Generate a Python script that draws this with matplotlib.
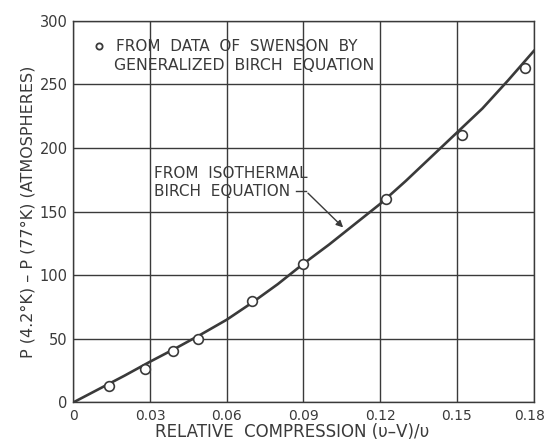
#!/usr/bin/env python3
import matplotlib
matplotlib.use('Agg')
import matplotlib.pyplot as plt
import matplotlib.transforms as mtransforms

# Points from the data of Swenson (generalized Birch equation)
data_x = [0.0140, 0.0280, 0.0391, 0.0489, 0.0698, 0.0900, 0.1222, 0.1519, 0.1767]
data_p = [13.0, 26.2, 40.4, 49.6, 79.5, 108.7, 159.5, 210.0, 263.0]

# Curve from the isothermal Birch equation
curve_x = [0.0, 0.01, 0.02, 0.03, 0.04, 0.05, 0.06, 0.07, 0.08, 0.09,
           0.10, 0.11, 0.12, 0.13, 0.14, 0.15, 0.16, 0.17, 0.18, 0.1805]
curve_p = [0.0, 10.5, 21.0, 32.0, 42.5, 53.5, 65.0, 78.5, 93.0, 109.0,
           124.0, 140.0, 156.0, 174.0, 193.0, 212.0, 231.0, 253.0, 276.0, 277.0]

x_ticks = [0, 0.03, 0.06, 0.09, 0.12, 0.15, 0.18]
x_tick_labels = ['0', '0.03', '0.06', '0.09', '0.12', '0.15', '0.18']
y_ticks = [0, 50, 100, 150, 200, 250, 300]

ink = '#3a3a3a'
plt.rcParams['font.family'] = ['DejaVu Sans']

fig = plt.figure(figsize=(5.45, 4.43), dpi=100)
ax = fig.add_axes([0.1345, 0.0916, 0.8445, 0.8617])

ax.plot(curve_x, curve_p, color=ink, linewidth=1.9, zorder=3)
ax.plot(data_x, data_p, linestyle='none', marker='o', markersize=7,
        markerfacecolor='white', markeredgecolor=ink, markeredgewidth=1.2, zorder=4)

ax.set_xlim(0, 0.18)
ax.set_ylim(0, 300)
ax.set_xticks(x_ticks)
ax.set_xticklabels(x_tick_labels)
ax.set_yticks(y_ticks)
ax.tick_params(axis='y', length=0, labelsize=10.5, labelcolor=ink, pad=4)
ax.tick_params(axis='x', length=0, labelsize=10, labelcolor=ink, pad=5)
# keep the last x label inside the figure
last = ax.get_xticklabels()[-1]
last.set_transform(last.get_transform() + mtransforms.ScaledTranslation(-4 / 100, 0, fig.dpi_scale_trans))
ax.grid(True, color=ink, linewidth=1.0)
for s in ax.spines.values():
    s.set_color(ink)
    s.set_linewidth(1.0)

ax.set_xlabel('RELATIVE  COMPRESSION (υ\u2013V)/υ', fontsize=12, color=ink, labelpad=0)
ax.xaxis.set_label_coords(0.475, -0.055)
ax.set_ylabel('P (4.2°K) \u2013 P (77°K) (ATMOSPHERES)', fontsize=11.5, color=ink, labelpad=3)

# Legend-like note
ax.plot([0.0102], [280], marker='o', markersize=4.5, markerfacecolor='white',
        markeredgecolor=ink, markeredgewidth=1.3, zorder=5)
ax.text(0.0168, 279.5, 'FROM  DATA  OF  SWENSON  BY', fontsize=11, color=ink, va='center')
ax.text(0.0160, 265, 'GENERALIZED  BIRCH  EQUATION', fontsize=11.3, color=ink, va='center')

# Annotation with arrow pointing to the curve
ax.text(0.0315, 180, 'FROM  ISOTHERMAL', fontsize=11, color=ink, va='center')
ax.text(0.0315, 166, 'BIRCH  EQUATION', fontsize=11, color=ink, va='center')
ax.plot([0.0871, 0.0910], [166, 166], color=ink, linewidth=1.0)
ax.annotate('', xy=(0.1063, 136), xytext=(0.0910, 166),
            arrowprops=dict(arrowstyle='-|>', color=ink, lw=1.0, mutation_scale=10))

fig.savefig('out.png', dpi=100)
